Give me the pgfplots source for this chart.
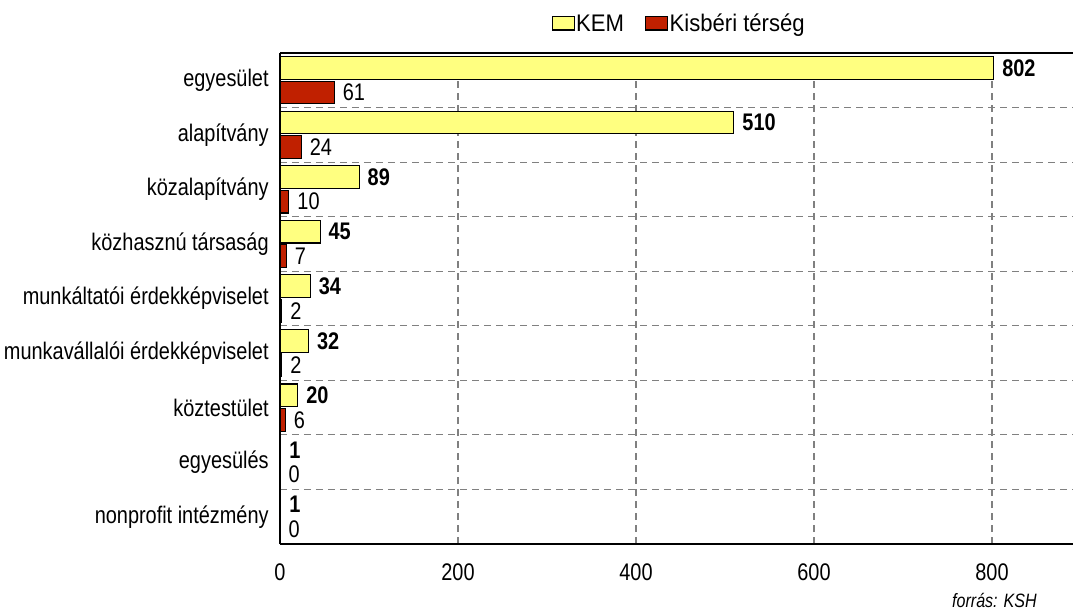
\documentclass[border=0pt]{standalone}
\usepackage{pgfplots}
\pgfplotsset{compat=1.18}
\usepackage{fontspec}
\setmainfont{Liberation Sans}[FakeStretch=0.83]
\newfontfamily\legfont{Liberation Sans}[FakeStretch=0.92]
\definecolor{kemyellow}{RGB}{255,255,128}
\definecolor{kisred}{RGB}{192,32,0}
\definecolor{gridgray}{RGB}{128,128,128}
\begin{document}
\begin{tikzpicture}
\useasboundingbox (-210pt,-52.5pt) rectangle (594.75pt,408pt);
\begin{axis}[
  at={(0,0)}, anchor=south west,
  scale only axis, width=594.75pt, height=368.25pt,
  xbar, bar width=17pt,
  xmin=0, xmax=891, ymin=-0.5, ymax=8.5,
  xtick={0,200,400,600,800},
  ytick={0,...,8},
  yticklabels={nonprofit intézmény,egyesülés,köztestület,munkavállalói érdekképviselet,munkáltatói érdekképviselet,közhasznú társaság,közalapítvány,alapítvány,egyesület},
  minor ytick={0.5,1.5,...,7.5},
  major tick length=0pt, minor tick length=0pt,
  xmajorgrids, yminorgrids,
  major grid style={gridgray, dash pattern=on 5pt off 4pt, line width=0.8pt},
  minor grid style={gridgray, dash pattern=on 5pt off 4pt, line width=0.8pt},
  axis x line*=bottom, axis y line*=left,
  axis line style={black, line width=1.3pt},
  /pgf/number format/assume math mode=true,
  ticklabel style={font=\fontsize{18}{20}\selectfont},
  yticklabel style={xshift=-5pt},
  xticklabel style={yshift=-11pt},
  legend style={at={(0.503,1.059)}, anchor=center, draw=none, fill=none,
    font=\legfont\fontsize{18}{20}\selectfont, legend columns=2,
    /tikz/every even column/.append style={column sep=15pt},
    /tikz/every node/.append style={inner sep=1pt}},
  legend image code/.code={\draw[#1, draw=black, line width=0.8pt] (-2pt,-4.5pt) rectangle (14.5pt,5.5pt);},
  nodes near coords,
  nodes near coords align={horizontal},
  every node near coord/.append style={anchor=west, xshift=5pt, inner sep=1pt, font=\fontsize{18}{20}\selectfont},
  clip=false,
]
\addplot[fill=kemyellow, draw=black, line width=0.8pt, bar shift=9.2pt,
  every node near coord/.append style={font=\fontsize{18}{20}\selectfont\bfseries}]
  coordinates {(802,8) (510,7) (89,6) (45,5) (34,4) (32,3) (20,2) (1,1) (1,0)};
\addplot[fill=kisred, draw=black, line width=0.8pt, bar shift=-9.2pt]
  coordinates {(61,8) (24,7) (10,6) (7,5) (2,4) (2,3) (6,2) (0,1) (0,0)};
\legend{KEM, Kisbéri térség}
\draw[black, line width=1.3pt] (axis cs:0,8.5) -- (axis cs:891,8.5);
\end{axis}
\node[anchor=east, font=\fontsize{14.5}{16}\itshape] at (571pt,-42pt) {forrás: KSH};
\end{tikzpicture}
\end{document}
